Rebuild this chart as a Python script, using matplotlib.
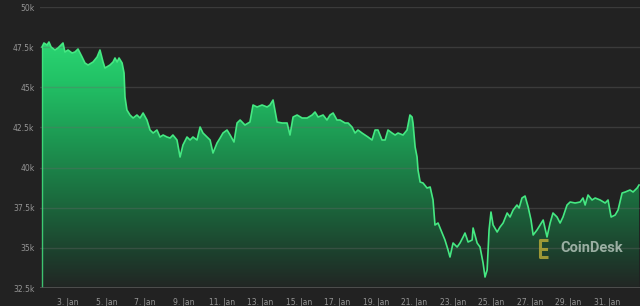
import numpy as np
import matplotlib
matplotlib.use('Agg')
import matplotlib.pyplot as plt
from matplotlib.colors import LinearSegmentedColormap
from matplotlib.ticker import FuncFormatter

# day of January (fractional) and BTC price in USD
days = [1.65, 1.75, 1.91, 2.01, 2.12, 2.32, 2.48, 2.74, 2.84, 3.00, 3.21, 3.36, 3.52, 3.73,
        3.88, 4.04, 4.30, 4.51, 4.66, 4.82, 4.92, 5.18, 5.34, 5.44, 5.55, 5.65, 5.81, 5.91,
        5.96, 6.06, 6.22, 6.38, 6.58, 6.74, 6.90, 7.10, 7.26, 7.42, 7.62, 7.78, 7.94, 8.14,
        8.30, 8.45, 8.66, 8.82, 8.97, 9.18, 9.34, 9.49, 9.70, 9.86, 10.01, 10.22, 10.38,
        10.53, 10.74, 10.90, 11.05, 11.26, 11.42, 11.62, 11.78, 11.94, 12.19, 12.45, 12.61,
        12.82, 13.08, 13.34, 13.49, 13.65, 13.86, 14.12, 14.38, 14.53, 14.69, 14.90, 15.16,
        15.42, 15.68, 15.83, 15.99, 16.25, 16.45, 16.61, 16.77, 16.97, 17.13, 17.39, 17.55,
        17.75, 17.91, 18.06, 18.27, 18.43, 18.58, 18.79, 18.95, 19.10, 19.31, 19.47, 19.62,
        19.83, 19.99, 20.14, 20.40, 20.61, 20.76, 20.87, 20.92, 21.03, 21.13, 21.18, 21.29,
        21.44, 21.65, 21.81, 21.96, 22.06, 22.22, 22.43, 22.58, 22.74, 22.84, 23.00, 23.21,
        23.36, 23.52, 23.62, 23.78, 23.99, 24.04, 24.25, 24.40, 24.56, 24.66, 24.77, 24.87,
        24.97, 25.08, 25.29, 25.44, 25.60, 25.81, 25.96, 26.12, 26.32, 26.43, 26.58, 26.74,
        26.90, 27.05, 27.16, 27.36, 27.52, 27.68, 27.88, 28.04, 28.19, 28.40, 28.56, 28.71,
        28.92, 29.08, 29.34, 29.60, 29.75, 29.86, 30.01, 30.22, 30.38, 30.64, 30.90, 31.05,
        31.21, 31.42, 31.57, 31.78, 31.94, 32.19, 32.35, 32.56, 32.66]
prices = [47509, 47758, 47633, 47820, 47509, 47322, 47447, 47758, 47197, 47322, 47135, 47197,
          47384, 46886, 46512, 46388, 46575, 46886, 47322, 46575, 46201, 46388, 46575, 46824,
          46575, 46824, 46512, 45890, 44395, 43585, 43274, 43087, 43274, 43087, 43398, 42962,
          42340, 42153, 42340, 41904, 42028, 41904, 41841, 42028, 41717, 40658, 41405, 41904,
          41717, 41904, 41717, 42526, 42153, 41904, 41717, 40907, 41530, 41841, 42153, 42340,
          42028, 41592, 42776, 42962, 42651, 42838, 43897, 43772, 43897, 43772, 43897, 44208,
          42838, 42776, 42776, 42028, 43149, 43274, 43087, 43087, 43274, 43461, 43149, 43274,
          42962, 43274, 43398, 42962, 42962, 42776, 42776, 42526, 42153, 42340, 42153, 42028,
          41904, 41717, 42340, 42340, 41717, 41717, 42340, 42153, 42028, 42153, 42028, 42340,
          43274, 43149, 42776, 41281, 40658, 39848, 39101, 39039, 38727, 38790, 37980, 36423,
          36547, 35925, 35489, 34866, 34430, 35302, 35053, 35302, 35676, 35925, 35364, 35489,
          36236, 35302, 35053, 34056, 33184, 33620, 36111, 37232, 36423, 35987, 36298, 36547,
          37170, 36921, 37357, 37668, 37481, 38105, 38229, 37544, 36734, 35800, 36111, 36423,
          36734, 35676, 36547, 37170, 36921, 36547, 36921, 37668, 37855, 37793, 37855, 38105,
          37668, 38291, 37980, 38105, 37980, 37793, 37980, 36921, 37046, 37357, 38416, 38478,
          38603, 38478, 38727, 38914]

tick_days = [3, 5, 7, 9, 11, 13, 15, 17, 19, 21, 23, 25, 27, 29, 31]
tick_labels = [f"{d}. Jan" for d in tick_days]
y_ticks = [32500, 35000, 37500, 40000, 42500, 45000, 47500, 50000]

BG = '#222222'
TXT = '#959595'
LINE = '#45e882'

fig = plt.figure(figsize=(6.4, 3.06), dpi=100, facecolor=BG)
ax = fig.add_axes([40 / 640, 1 - 288 / 306, 600 / 640, 281 / 306])
ax.set_facecolor(BG)

x0, x1 = 1.545, 32.71
y0, y1 = 32500, 50000
ax.set_xlim(x0, x1)
ax.set_ylim(y0, y1)

# gridlines sit above the fill, semi-transparent
for yt in y_ticks[1:]:
    ax.axhline(yt, color='#6a6a6a', alpha=0.35, lw=1.0, zorder=2)
ax.axhline(y0, color='#555555', lw=1.2, zorder=4)

# gradient fill under the line
poly = ax.fill_between(days, prices, y0, color='none', lw=0)
cmap = LinearSegmentedColormap.from_list(
    'g', [(0.0, '#222624'), (0.12, '#1d3d2c'), (0.35, '#1b6b3e'), (0.6, '#1d9a53'),
          (0.82, '#22c266'), (1.0, '#2cd874')])
grad = np.linspace(0, 1, 256).reshape(-1, 1)
img = ax.imshow(grad, cmap=cmap, origin='lower', aspect='auto',
                extent=[x0, x1, y0, 48200], zorder=1)
img.set_clip_path(poly.get_paths()[0], transform=ax.transData)

ax.plot(days, prices, color=LINE, lw=1.2, zorder=3, solid_joinstyle='round')
ax.vlines(days[0], y0, prices[0], color=LINE, lw=1.0, alpha=0.8, zorder=3)

ax.set_xticks(tick_days)
ax.set_xticklabels(tick_labels)
ax.set_yticks(y_ticks)
ax.yaxis.set_major_formatter(FuncFormatter(lambda v, p: f"{v / 1000:g}k"))
ax.tick_params(axis='both', length=0, colors=TXT, labelsize=5.5)
ax.tick_params(axis='y', pad=4)
ax.tick_params(axis='x', pad=7)
for s in ax.spines.values():
    s.set_visible(False)

# CoinDesk watermark
ax.text((560 - 40) / 600, (288 - 248) / 281, 'CoinDesk', transform=ax.transAxes,
        fontsize=10.5, fontweight='bold', family='Roboto', color='#b9c9bf', alpha=0.8,
        ha='left', va='center', zorder=5)
logo = '#b5a838'
def fx(px):
    return (px - 40) / 600
def fy(py):
    return (288 - py) / 281
ax.plot([fx(548), fx(540), fx(540), fx(548)], [fy(240), fy(240), fy(257), fy(257)],
        transform=ax.transAxes, color=logo, lw=2.2, alpha=0.85, zorder=5, solid_capstyle='butt')
ax.plot([fx(543), fx(546)], [fy(248.5), fy(248.5)], transform=ax.transAxes,
        color=logo, lw=2.2, alpha=0.85, zorder=5)

plt.savefig('out.png', dpi=100, facecolor=BG)
